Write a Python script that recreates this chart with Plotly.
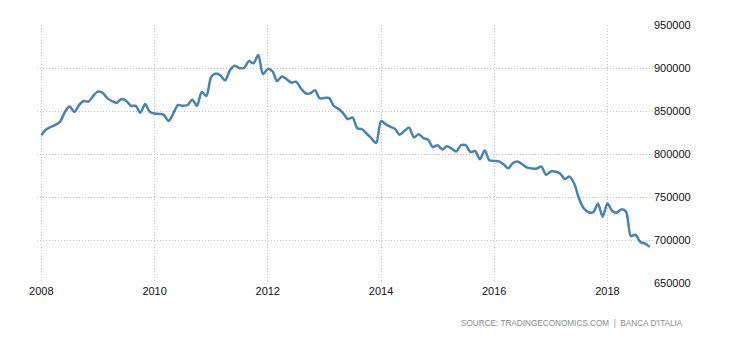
import plotly.graph_objects as go
import pandas as pd

start_month = "2008-01-01"
values = [
    # 2008
    821800, 828500, 831500, 833800, 837600, 848900, 855300, 848900, 857100, 861600, 860900, 867700,
    # 2009
    872500, 871000, 865000, 861500, 859500, 864000, 862000, 856000, 856000, 848000, 858000, 849000,
    # 2010
    847000, 846500, 845500, 838500, 847000, 857000, 856000, 857000, 863000, 856000, 872000, 867500,
    # 2011
    889500, 893500, 891500, 885500, 897000, 902500, 900000, 900000, 908000, 905500, 915000, 893000,
    # 2012
    898700, 896200, 884800, 890200, 887100, 883000, 884100, 876500, 870500, 870500, 874200, 864800,
    # 2013
    865200, 865000, 856100, 852500, 847500, 840500, 842500, 830000, 828800, 823500, 817800, 812900,
    # 2014
    838300, 834500, 831800, 829200, 822300, 826900, 830700, 819300, 823100, 818600, 816700, 808000,
    # 2015
    810200, 805300, 809100, 806400, 803000, 810200, 810200, 802300, 803400, 793900, 804200, 792800,
    # 2016
    792000, 791400, 788000, 783500, 789500, 791400, 788000, 784200, 783100, 783100, 785300, 775900,
    # 2017
    779700, 779300, 777400, 771000, 773700, 765400, 748500, 736800, 732300, 732300, 742100, 727100,
    # 2018
    742400, 733700, 731800, 735600, 733000, 704500, 706100, 697700, 695800, 692000,
]
dates = pd.date_range(start_month, periods=len(values), freq="MS")

y_ticks = [650000, 700000, 750000, 800000, 850000, 900000, 950000]
source_text = "SOURCE: TRADINGECONOMICS.COM  |  BANCA D'ITALIA"

fig = go.Figure()
fig.add_trace(go.Scatter(
    x=dates, y=values, mode="lines",
    line=dict(color="#4682b4", width=2.5, shape="spline", smoothing=0.8),
    hoverinfo="skip",
))

# page body has an 8px margin; compensate
OFF = 8
L, T = 37 - OFF, 19 - OFF
pw, ph = 616, 264
W, H = 730 - OFF, 340 - OFF
R = W - L - pw
B = H - T - ph

fig.update_layout(
    width=W, height=H,
    margin=dict(l=L, r=R, t=T, b=B),
    paper_bgcolor="white", plot_bgcolor="white",
    showlegend=False,
    font=dict(family="Liberation Sans, Arial, sans-serif", size=11, color="#111"),
    xaxis=dict(
        type="date",
        range=["2007-12-04", "2018-10-22"],
        tick0="2008-01-01", dtick="M24", tickformat="%Y",
        showgrid=True, gridcolor="#c4c4c4", griddash="1px,2px", gridwidth=1,
        showline=False, zeroline=False, ticks="",
    ),
    yaxis=dict(
        side="right",
        range=[650000, 950000],
        tickvals=y_ticks, tickformat="d",
        showgrid=True, gridcolor="#c4c4c4", griddash="1px,2px", gridwidth=1,
        showline=False, zeroline=False, ticks="",
    ),
    annotations=[dict(
        text=source_text, xref="paper", yref="paper",
        x=(685 - 37) / pw, y=(283 - 324.7) / ph,
        xanchor="right", yanchor="middle", showarrow=False,
        font=dict(size=8.2, color="#8a8a8a", family="Liberation Sans, Arial, sans-serif"),
    )],
)

fig.write_html("out.html")
